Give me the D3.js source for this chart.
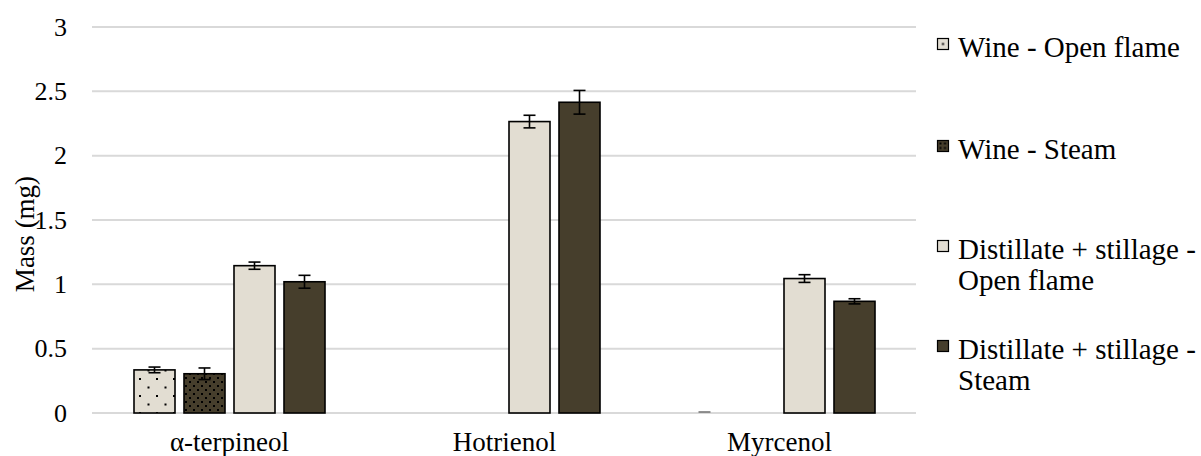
<!DOCTYPE html>
<html>
<head>
<meta charset="utf-8">
<script src="https://cdn.jsdelivr.net/npm/d3@7"></script>
<style>
  body { margin: 0; background: #fff; }
  svg text { font-family: "Liberation Serif", "DejaVu Serif", "Times New Roman", serif !important; }
</style>
</head>
<body>
<div id="chart"></div>
<script>
(function() {
    /********************************************
     * DATA
     ********************************************/
    const categories = ["α-terpineol", "Hotrienol", "Myrcenol"];
    const series = ["Wine - Open flame", "Wine - Steam",
                    "Distillate + stillage - Open flame", "Distillate + stillage - Steam"];
    // legend text broken into lines like the original
    const legendLines = [["Wine - Open flame"], ["Wine - Steam"],
                         ["Distillate + stillage -", "Open flame"], ["Distillate + stillage -", "Steam"]];

    // values[series][category]; null = no bar
    const values = [
        [0.335, null, 0],
        [0.305, null, null],
        [1.145, 2.265, 1.045],
        [1.02, 2.415, 0.868]
    ];
    const errors = [
        [0.022, null, 0],
        [0.045, null, null],
        [0.028, 0.049, 0.03],
        [0.05, 0.092, 0.02]
    ];
    const yTicks = [0, 0.5, 1, 1.5, 2, 2.5, 3];

    /********************************************
     * SCALES
     ********************************************/
    const width = 1201;
    const height = 456;
    const light = "#e2ddd2";
    const dark = "#463e2c";
    const fills = ["url(#dotsSparse)", "url(#dotsDense)", light, dark];
    const legendFills = ["url(#dotsLegendLight)", "url(#dotsLegendDark)", light, dark];
    const serif = "'Liberation Serif', 'DejaVu Serif', serif";

    const svg = d3.select("#chart").append("svg")
        .attr("width", width)
        .attr("height", height)
        .attr("font-family", serif);

    const defs = svg.append("defs");

    // sparse dots on light fill
    const p1 = defs.append("pattern").attr("id", "dotsSparse")
        .attr("patternUnits", "userSpaceOnUse")
        .attr("width", 17).attr("height", 17);
    p1.append("rect").attr("width", 17).attr("height", 17).attr("fill", light);
    p1.append("rect").attr("x", 3).attr("y", 4).attr("width", 2).attr("height", 2).attr("fill", "#000");
    p1.append("rect").attr("x", 11.5).attr("y", 12.5).attr("width", 2).attr("height", 2).attr("fill", "#000");

    // dense dots on dark fill
    const p2 = defs.append("pattern").attr("id", "dotsDense")
        .attr("patternUnits", "userSpaceOnUse")
        .attr("width", 8).attr("height", 8);
    p2.append("rect").attr("width", 8).attr("height", 8).attr("fill", dark);
    p2.append("rect").attr("x", 1).attr("y", 1).attr("width", 2).attr("height", 2).attr("fill", "#000");
    p2.append("rect").attr("x", 5).attr("y", 5).attr("width", 2).attr("height", 2).attr("fill", "#000");

    // legend swatch versions
    const p3 = defs.append("pattern").attr("id", "dotsLegendLight")
        .attr("patternUnits", "objectBoundingBox")
        .attr("width", 1).attr("height", 1);
    p3.append("rect").attr("width", 11).attr("height", 11).attr("fill", light);
    p3.append("rect").attr("x", 4.5).attr("y", 4.5).attr("width", 2).attr("height", 2).attr("fill", "#000");

    const p4 = defs.append("pattern").attr("id", "dotsLegendDark")
        .attr("patternUnits", "objectBoundingBox")
        .attr("width", 1).attr("height", 1);
    p4.append("rect").attr("width", 11).attr("height", 11).attr("fill", dark);
    [[2, 2], [6.5, 2], [2, 6.5], [6.5, 6.5]].forEach(([dx, dy]) => {
        p4.append("rect").attr("x", dx).attr("y", dy).attr("width", 2).attr("height", 2).attr("fill", "#000");
    });

    const x0 = d3.scaleBand()
        .domain(categories)
        .range([92, 917]);

    const x1 = d3.scaleBand()
        .domain(d3.range(series.length))
        .range([0, x0.bandwidth()])
        .paddingInner(0.18)
        .paddingOuter(0.84);

    const y = d3.scaleLinear()
        .domain([0, 3])
        .range([413, 27]);

    /********************************************
     * GRID & AXES
     ********************************************/
    svg.append("g")
        .selectAll("line")
        .data(yTicks)
        .join("line")
        .attr("x1", 92)
        .attr("x2", 916)
        .attr("y1", d => y(d))
        .attr("y2", d => y(d))
        .attr("stroke", "#d9d9d9")
        .attr("stroke-width", 2);

    const yAxis = svg.append("g")
        .attr("transform", "translate(67,0)")
        .call(d3.axisLeft(y).tickValues(yTicks).tickSize(0).tickPadding(0).tickFormat(d3.format("")));
    yAxis.attr("font-family", serif);
    yAxis.select(".domain").remove();
    yAxis.selectAll("text")
        .attr("fill", "#000")
        .attr("font-size", 26);

    const xAxis = svg.append("g")
        .attr("transform", "translate(0,413)")
        .call(d3.axisBottom(x0).tickSize(0).tickPadding(0));
    xAxis.attr("font-family", serif);
    xAxis.select(".domain").remove();
    xAxis.selectAll("text")
        .attr("fill", "#000")
        .attr("dy", null)
        .attr("y", 38)
        .attr("font-size", 27);

    svg.append("text")
        .attr("transform", "translate(34,234) rotate(-90)")
        .attr("text-anchor", "middle")
        .attr("font-size", 27)
        .text("Mass (mg)");

    /********************************************
     * BARS & ERROR BARS
     ********************************************/
    const cells = [];
    series.forEach((s, si) => {
        categories.forEach((c, ci) => {
            if (values[si][ci] != null) {
                cells.push({ si, c, v: values[si][ci], e: errors[si][ci] });
            }
        });
    });

    const bars = svg.append("g");
    bars.selectAll("rect")
        .data(cells.filter(d => d.v > 0))
        .join("rect")
        .attr("x", d => x0(d.c) + x1(d.si))
        .attr("y", d => y(d.v))
        .attr("width", x1.bandwidth())
        .attr("height", d => y(0) - y(d.v))
        .attr("fill", d => fills[d.si])
        .attr("stroke", "#000")
        .attr("stroke-width", 1.6);

    const errG = svg.append("g")
        .attr("stroke", "#000")
        .attr("stroke-width", 1.6);
    const cap = 6;
    cells.forEach(d => {
        const cx = x0(d.c) + x1(d.si) + x1.bandwidth() / 2;
        const top = y(d.v + d.e);
        const bot = y(d.v - d.e);
        if (d.v === 0) {
            errG.append("line")
                .attr("x1", cx - cap).attr("x2", cx + cap)
                .attr("y1", y(0) - 1).attr("y2", y(0) - 1)
                .attr("stroke", "#777");
            return;
        }
        errG.append("line").attr("x1", cx).attr("x2", cx).attr("y1", top).attr("y2", bot);
        errG.append("line").attr("x1", cx - cap).attr("x2", cx + cap).attr("y1", top).attr("y2", top);
        errG.append("line").attr("x1", cx - cap).attr("x2", cx + cap).attr("y1", bot).attr("y2", bot);
    });

    /********************************************
     * LEGEND
     ********************************************/
    const legendY = [44, 146, 246, 346];
    const legend = svg.append("g");
    series.forEach((s, i) => {
        const g = legend.append("g").attr("transform", `translate(937,${legendY[i]})`);
        g.append("rect")
            .attr("x", 0.5).attr("y", -5.5)
            .attr("width", 11).attr("height", 11)
            .attr("fill", legendFills[i])
            .attr("stroke", "#000")
            .attr("stroke-width", 1.2);
        const t = g.append("text")
            .attr("x", 21)
            .attr("y", 12.5)
            .attr("font-size", 29);
        legendLines[i].forEach((line, li) => {
            t.append("tspan")
                .attr("x", 21)
                .attr("dy", li === 0 ? 0 : 31)
                .text(line);
        });
    });
})();
</script>
</body>
</html>
